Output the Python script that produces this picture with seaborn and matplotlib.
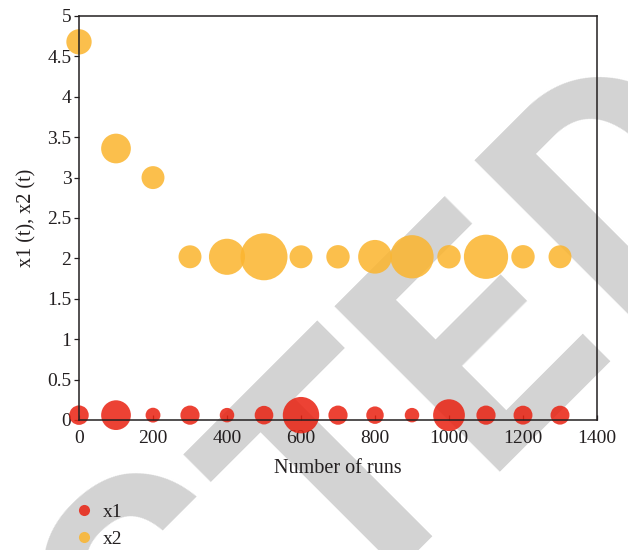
import numpy as np
import pandas as pd
import matplotlib
matplotlib.use("Agg")
import matplotlib.pyplot as plt
from matplotlib.lines import Line2D
import seaborn as sns

# ---- data -------------------------------------------------------------
runs = [0, 100, 200, 300, 400, 500, 600, 700, 800, 900, 1000, 1100, 1200, 1300]
x1_values = [0.06, 0.06, 0.06, 0.06, 0.06, 0.06, 0.06, 0.06, 0.06, 0.06, 0.06, 0.06, 0.06, 0.06]
x2_values = [4.68, 3.36, 3.00, 2.02, 2.02, 2.02, 2.02, 2.02, 2.02, 2.02, 2.02, 2.02, 2.02, 2.02]
# bubble weights (bubble area is proportional to the weight)
x1_weights = [1.8, 4.2, 1.05, 1.75, 1.0, 1.65, 6.3, 1.75, 1.45, 1.0, 4.8, 1.75, 1.7, 1.7]
x2_weights = [3.05, 4.2, 2.5, 2.5, 6.2, 10.5, 2.5, 2.6, 5.4, 8.9, 2.6, 9.3, 2.6, 2.5]
series_names = ["x1", "x2"]
x_ticks = [0, 200, 400, 600, 800, 1000, 1200, 1400]
y_ticks = [0, 0.5, 1, 1.5, 2, 2.5, 3, 3.5, 4, 4.5, 5]
y_tick_labels = ["0", "0.5", "1", "1.5", "2", "2.5", "3", "3.5", "4", "4.5", "5"]
x_label = "Number of runs"
y_label = "x1 (t), x2 (t)"

# ---- style ------------------------------------------------------------
sns.set_style("ticks")
plt.rcParams["font.family"] = ["Liberation Serif", "DejaVu Serif"]
TEXT = "#231f20"
palette = {"x1": "#e92313", "x2": "#fbb52f"}
ALPHA = 0.86

df = pd.concat([
    pd.DataFrame({"runs": runs, "value": x1_values, "weight": x1_weights, "series": series_names[0]}),
    pd.DataFrame({"runs": runs, "value": x2_values, "weight": x2_weights, "series": series_names[1]}),
], ignore_index=True)

W, H = 628, 550
fig = plt.figure(figsize=(W / 100, H / 100), dpi=100)
ax = fig.add_axes([79 / W, 1 - 420 / H, (597 - 79) / W, (420 - 16) / H])
ax.set_facecolor("none")

# ---- diagonal stamp lettering behind the chart -------------------------
def stamp_pos(u, w):
    # u runs along the 45-degree reading direction, w points down-right (pixels)
    x = (u + w) / np.sqrt(2)
    y = (w - u) / np.sqrt(2)
    return x / W, 1 - y / H

for letter, u_center, w_base in [("C", -305, 636), ("T", -95, 681),
                                 ("E", 97, 673), ("D", 314, 669)]:
    fx, fy = stamp_pos(u_center, w_base)
    fig.text(fx, fy, letter, rotation=45, rotation_mode="anchor",
             ha="center", va="baseline", fontsize=236, fontweight="bold",
             family=["Roboto", "DejaVu Sans"], color="#d3d3d3", zorder=-5)

# ---- bubbles ------------------------------------------------------------
w_max = max(max(x1_weights), max(x2_weights))
s_max = (47 * 0.72) ** 2 * w_max / 10.5
sns.scatterplot(data=df, x="runs", y="value", hue="series", size="weight",
                palette=palette, sizes=(0, s_max), size_norm=(0, w_max),
                alpha=ALPHA, linewidth=0, legend=False, clip_on=False, ax=ax)

ax.set_xlim(0, 1400)
ax.set_ylim(0, 5)
ax.set_xticks(x_ticks)
ax.set_xticklabels([str(t) for t in x_ticks])
ax.set_yticks(y_ticks)
ax.set_yticklabels(y_tick_labels)

for sp in ax.spines.values():
    sp.set_visible(True)
    sp.set_color(TEXT)
    sp.set_linewidth(1.1)

ax.tick_params(axis="x", direction="in", length=3.5, width=0.9, color=TEXT,
               labelsize=14, labelcolor=TEXT, pad=7)
ax.tick_params(axis="y", direction="out", length=3.5, width=0.9, color=TEXT,
               labelsize=14, labelcolor=TEXT, pad=2)
ax.set_xlabel(x_label, fontsize=14.5, color=TEXT, labelpad=9)
ax.set_ylabel(y_label, fontsize=14.5, color=TEXT, labelpad=8)

handles = [Line2D([], [], marker="o", linestyle="", markersize=8,
                  markerfacecolor=palette[n], markeredgewidth=0, alpha=ALPHA)
           for n in series_names]
fig.legend(handles, series_names, loc="upper left",
           bbox_to_anchor=(76 / W, 1 - 503 / H), frameon=False,
           fontsize=14, handlelength=0.8, handletextpad=0.6,
           labelspacing=0.5, borderpad=0, borderaxespad=0,
           labelcolor=TEXT)

fig.savefig("out.png", dpi=100)
